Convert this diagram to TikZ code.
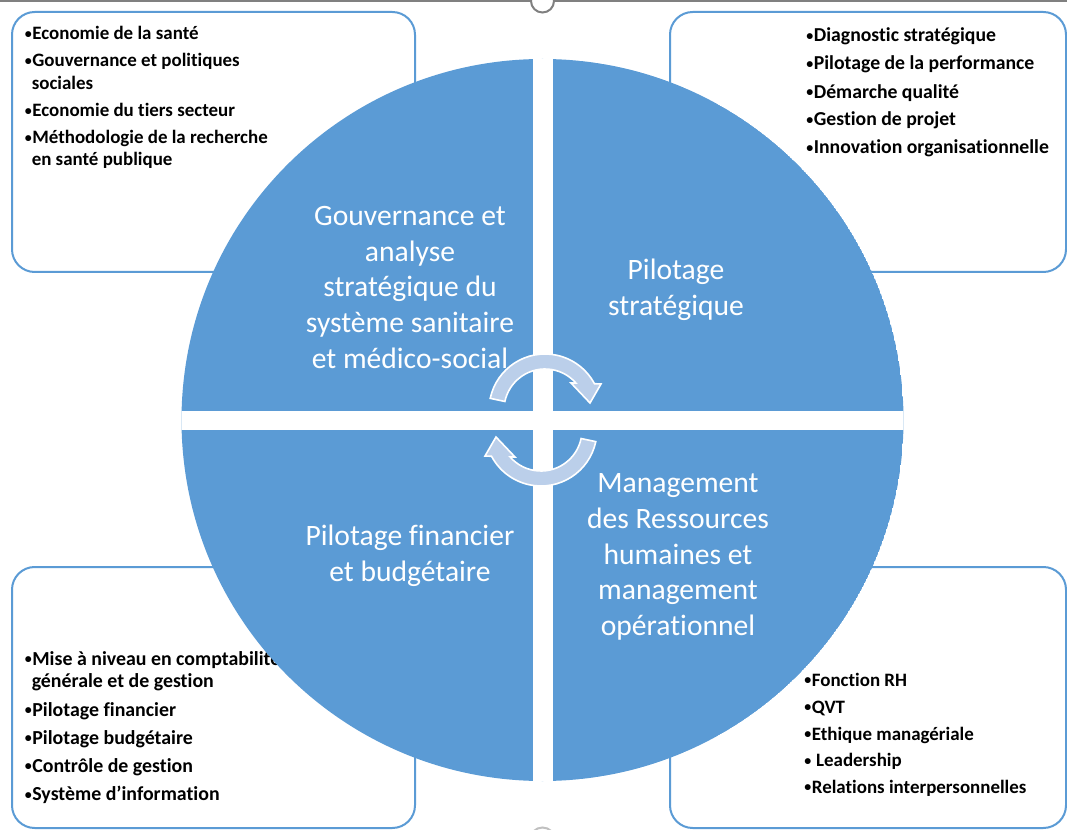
\documentclass[tikz,border=0pt]{standalone}
\usepackage{fontspec}
\setmainfont{Carlito}[Ligatures={NoCommon}]
\usetikzlibrary{calc}
\definecolor{qblue}{HTML}{5B9BD5}
\definecolor{bborder}{HTML}{5B9BD5}
\definecolor{arrfill}{HTML}{BBCFEA}
\definecolor{handle}{HTML}{808080}
\newcommand\bul{\makebox[5.7pt][l]{\raisebox{1.2pt}{\fontsize{10.5}{10.5}\selectfont •}}}
\begin{document}
\begin{tikzpicture}[x=0.75pt,y=-0.75pt,
  listbox/.style={draw=bborder, line width=1.5pt, fill=white, rounded corners=17pt},
  item/.style={anchor=base west, inner sep=0pt, font=\fontsize{14.2}{17}\selectfont\bfseries, text=black},
  itemtr/.style={item, font=\fontsize{14.8}{17}\selectfont\bfseries},
  itembl/.style={item, font=\fontsize{14.9}{17}\selectfont\bfseries},
  qtext/.style={align=center, text=white, font=\fontsize{22.2}{26.8}\selectfont, inner sep=0pt},
  cyc/.style={fill=arrfill, draw=white, line width=1.2pt, line join=miter}]
\useasboundingbox (0,0) rectangle (1067,830);
\clip (0,0) rectangle (1067,830);
% frame line and handles
\draw[handle, line width=1.5pt] (0,1) -- (1067,1);
\filldraw[fill=white, draw=handle, line width=1.5pt] (542.5,1) circle[radius=11.5];
\draw[handle!50, line width=1.5pt] (542.5,840) circle[radius=12.5];
% boxes
\draw[listbox] (12,12) rectangle (415,272);
\draw[listbox] (670,12) rectangle (1066,272);
\draw[listbox] (12,567) rectangle (415,828);
\draw[listbox] (670,567) rectangle (1066,828);
% top-left list
\node[item] (tl1) at (24.5,40) {\bul Economie de la santé};
\node[item] (tl2) at (24.5,66.7) {\bul Gouvernance et politiques};
\node[item] (tl3) at (31.5,90) {sociales};
\node[item] (tl4) at (24.5,117) {\bul Economie du tiers secteur};
\node[item] (tl5) at (24.5,144) {\bul Méthodologie de la recherche};
\node[item] (tl6) at (31.5,166) {en santé publique};
% top-right list
\node[itemtr] (tr1) at (806,41.7) {\bul Diagnostic stratégique};
\node[itemtr] (tr2) at (806,70) {\bul Pilotage de la performance};
\node[itemtr] (tr3) at (806,98.3) {\bul Démarche qualité};
\node[itemtr] (tr4) at (806,126) {\bul Gestion de projet};
\node[itemtr] (tr5) at (806,154) {\bul Innovation organisationnelle};
% bottom-left list
\node[itembl] (bl1) at (24.5,665) {\bul Mise à niveau en comptabilité};
\node[itembl] (bl2) at (31.5,687.3) {générale et de gestion};
\node[itembl] (bl3) at (24.5,716) {\bul Pilotage financier};
\node[itembl] (bl4) at (24.5,744) {\bul Pilotage budgétaire};
\node[itembl] (bl5) at (24.5,772.3) {\bul Contrôle de gestion};
\node[itembl] (bl6) at (24.5,800.7) {\bul Système d’information};
% bottom-right list
\node[item] (br1) at (804,686) {\bul Fonction RH};
\node[item] (br2) at (804,713.3) {\bul QVT};
\node[item] (br3) at (804,740) {\bul Ethique managériale};
\node[item] (br4) at (804,766.7) {\bul\ Leadership};
\node[item] (br5) at (804,793.3) {\bul Relations interpersonnelles};
% circle quadrants
\begin{scope}
  \clip (542.5,420) circle[radius=361];
  \fill[qblue] (542.5,420) circle[radius=361];
  \fill[white] (533,40) rectangle (553,800);
  \fill[white] (150,411) rectangle (940,430);
\end{scope}
\node[qtext] (q1) at (410,287.5) {Gouvernance et\\analyse\\stratégique du\\système sanitaire\\et médico-social};
\node[qtext] (q2) at (676,289.5) {Pilotage\\stratégique};
\node[qtext] (q3) at (410,555.5) {Pilotage financier\\et budgétaire};
\node[qtext] (q4) at (678,557) {Management\\des Ressources\\humaines et\\management\\opérationnel};
% cycle arrows
\filldraw[cyc] (545,410) ++(192:56) arc[start angle=192,end angle=332,radius=56] -- (601,384) -- (590,403) -- (571,383) -- ($(545,410)+(319:41)$) arc[start angle=319,end angle=192,radius=41] -- cycle;
\begin{scope}[rotate around={180:(543,420)}]
\filldraw[cyc] (545,410) ++(192:56) arc[start angle=192,end angle=332,radius=56] -- (601,384) -- (590,403) -- (571,383) -- ($(545,410)+(319:41)$) arc[start angle=319,end angle=192,radius=41] -- cycle;
\end{scope}
\end{tikzpicture}
\end{document}
